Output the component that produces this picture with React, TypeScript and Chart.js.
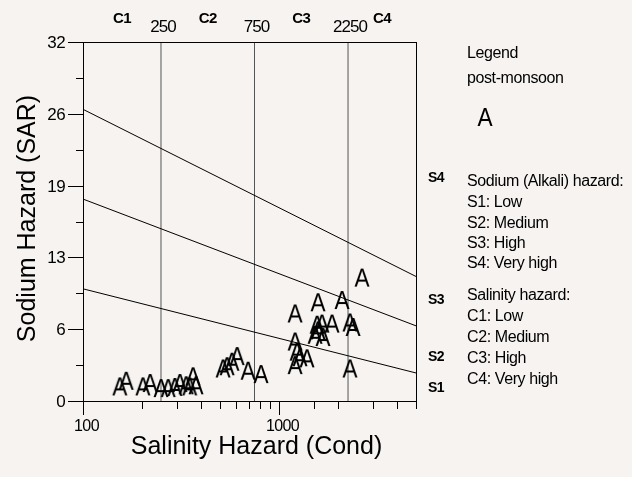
import { useEffect, useRef } from 'react';
import { Chart, registerables } from 'chart.js';

Chart.register(...registerables);

// ---- data ----
const conductivity = [
  154, 166, 202, 220, 250, 272, 294, 312, 336, 364, 377, 350,
  518, 543, 575, 611, 695, 809,
  1207, 1581, 2095, 2650, 1863, 2301, 2386, 1563, 1656, 1581, 1527, 1675,
  1207, 1236, 1279, 1389, 1207, 2301,
];
const sarValues = [
  1.3, 1.8, 1.3, 1.6, 1.15, 1.15, 1.25, 1.6, 1.4, 2.2, 1.4, 1.3,
  2.9, 3.1, 3.5, 4.0, 2.7, 2.4,
  7.8, 8.8, 9.0, 11.0, 6.9, 7.0, 6.6, 6.8, 6.9, 6.3, 5.9, 5.7,
  5.3, 4.4, 3.9, 3.8, 3.2, 2.9,
];

const condRange = [100, 5000];
const sarRange = [0, 32];
const sodiumLineStart = [10, 18, 26]; // SAR at cond = 100
const sodiumLineEnd = [2.5, 6.7, 11.1]; // SAR at cond = 5000
const salinityBounds = [250, 750, 2250];
const salinityClasses = ['C1', 'C2', 'C3', 'C4'];
const sodiumClasses = ['S1', 'S2', 'S3', 'S4'];
const sodiumClassSar = [1.15, 3.9, 9.0, 19.9];
const yTickValues = [0, 3.2, 6.4, 9.6, 12.8, 16, 19.2, 22.4, 25.6, 28.8, 32];
const yTickLabels = ['0', '', '6', '', '13', '', '19', '', '26', '', '32'];
const xTickLabels = [100, 1000];
const legendTitle = 'Legend';
const seriesName = 'post-monsoon';
const seriesSymbol = 'A';
const sodiumText = ['Sodium (Alkali) hazard:', 'S1: Low', 'S2: Medium', 'S3: High', 'S4: Very high'];
const salinityText = ['Salinity hazard:', 'C1: Low', 'C2: Medium', 'C3: High', 'C4: Very high'];
const xTitle = 'Salinity Hazard (Cond)';
const yTitle = 'Sodium Hazard (SAR)';

const FONT = '"Liberation Sans", Arial, sans-serif';

function makeSymbol(): HTMLCanvasElement {
  const c = document.createElement('canvas');
  c.width = 20;
  c.height = 24;
  const g = c.getContext('2d')!;
  g.fillStyle = '#000';
  g.font = `26px ${FONT}`;
  g.textAlign = 'center';
  g.textBaseline = 'alphabetic';
  g.save();
  g.translate(10, 21.3);
  g.scale(0.87, 1);
  g.fillText(seriesSymbol, 0, 0);
  g.restore();
  return c;
}

export default function App() {
  const ref = useRef<HTMLCanvasElement | null>(null);

  useEffect(() => {
    document.body.style.margin = '0';
    const canvas = ref.current!;
    const symbol = makeSymbol();

    const decorPlugin = {
      id: 'decor',
      beforeDraw(chart: any) {
        const ctx = chart.ctx;
        ctx.save();
        ctx.fillStyle = '#f6f3f1';
        ctx.fillRect(0, 0, chart.width, chart.height);
        ctx.restore();
      },
      afterDraw(chart: any) {
        const ctx: CanvasRenderingContext2D = chart.ctx;
        const ca = chart.chartArea;
        const xs = chart.scales.x;
        const ys = chart.scales.y;
        ctx.save();
        ctx.strokeStyle = '#000';
        ctx.lineWidth = 1;
        ctx.strokeRect(Math.round(ca.left) + 0.5, Math.round(ca.top) + 0.5,
          Math.round(ca.right - ca.left), Math.round(ca.bottom - ca.top));

        // y ticks
        ctx.fillStyle = '#000';
        (ctx as any).letterSpacing = '-0.6px';
        ctx.font = `17px ${FONT}`;
        ctx.textAlign = 'right';
        ctx.textBaseline = 'middle';
        ys.ticks.forEach((t: any, i: number) => {
          const py = Math.round(ys.getPixelForValue(t.value)) + 0.5;
          const lab = yTickLabels[i] || '';
          const len = lab ? 15 : 7;
          ctx.beginPath();
          ctx.moveTo(ca.left - len, py);
          ctx.lineTo(ca.left, py);
          ctx.stroke();
          if (lab) ctx.fillText(lab, ca.left - 18, py + 1);
        });

        // x ticks
        ctx.textAlign = 'center';
        ctx.textBaseline = 'middle';
        ctx.font = `16px ${FONT}`;
        xs.ticks.forEach((t: any) => {
          const px = Math.round(xs.getPixelForValue(t.value)) + 0.5;
          const major = xTickLabels.includes(t.value);
          const len = major ? 14 : 8;
          ctx.beginPath();
          ctx.moveTo(px, ca.bottom);
          ctx.lineTo(px, ca.bottom + len);
          ctx.stroke();
          if (major) ctx.fillText(String(t.value), px + 3, ca.bottom + 26);
        });

        // top salinity labels
        ctx.textBaseline = 'alphabetic';
        ctx.font = `17px ${FONT}`;
        (ctx as any).letterSpacing = '-1px';
        salinityBounds.forEach((b) => {
          ctx.fillText(String(b), xs.getPixelForValue(b) + 2, 32);
        });
        ctx.font = `bold 15px ${FONT}`;
        (ctx as any).letterSpacing = '-0.5px';
        const edges = [condRange[0], ...salinityBounds, condRange[1]];
        salinityClasses.forEach((c, i) => {
          const mid = Math.sqrt(edges[i] * edges[i + 1]);
          ctx.fillText(c, xs.getPixelForValue(mid), 23);
        });

        // right sodium class labels
        ctx.textAlign = 'left';
        ctx.textBaseline = 'middle';
        ctx.font = `bold 14px ${FONT}`;
        sodiumClasses.forEach((s, i) => {
          ctx.fillText(s, ca.right + 12, ys.getPixelForValue(sodiumClassSar[i]));
        });

        // legend
        ctx.textBaseline = 'alphabetic';
        ctx.font = `16px ${FONT}`;
        (ctx as any).letterSpacing = '-0.4px';
        const lx = ca.right + 51;
        ctx.fillText(legendTitle, lx, 58);
        ctx.fillText(seriesName, lx, 83);
        ctx.drawImage(symbol, 485 - 10, 117 - 12);
        const sBase = [186, 207, 228, 248, 268];
        sodiumText.forEach((t, i) => ctx.fillText(t, lx, sBase[i]));
        const cBase = [300, 321, 342, 363, 384];
        salinityText.forEach((t, i) => ctx.fillText(t, lx, cBase[i]));

        // axis titles
        (ctx as any).letterSpacing = '0px';
        ctx.font = `25px ${FONT}`;
        ctx.textAlign = 'center';
        ctx.textBaseline = 'middle';
        ctx.fillText(xTitle, (ca.left + ca.right) / 2 + 7, 447);
        ctx.save();
        ctx.translate(28, (ca.top + ca.bottom) / 2 - 3);
        ctx.rotate(-Math.PI / 2);
        ctx.fillText(yTitle, 0, 0);
        ctx.restore();

        ctx.restore();
      },
    };

    const datasets: any[] = [
      {
        label: seriesName,
        data: conductivity.map((c, i) => ({ x: c, y: sarValues[i] })),
        pointStyle: symbol,
        pointRadius: 10,
        showLine: false,
      },
      ...sodiumLineStart.map((s, i) => ({
        label: 'S' + (i + 1),
        data: [
          { x: condRange[0], y: s },
          { x: condRange[1], y: sodiumLineEnd[i] },
        ],
        showLine: true,
        borderColor: '#000',
        borderWidth: 1,
        pointRadius: 0,
      })),
      ...salinityBounds.map((b) => ({
        label: 'C' + b,
        data: [
          { x: b, y: sarRange[0] },
          { x: b, y: sarRange[1] },
        ],
        showLine: true,
        borderColor: '#555',
        borderWidth: 1,
        pointRadius: 0,
      })),
    ];

    const chart = new Chart(canvas, {
      type: 'scatter',
      data: { datasets },
      options: {
        animation: false,
        responsive: true,
        maintainAspectRatio: false,
        layout: { padding: { left: 0, top: 42, right: 216, bottom: 0 } },
        plugins: { legend: { display: false }, tooltip: { enabled: false } },
        scales: {
          x: {
            type: 'logarithmic',
            min: condRange[0],
            max: condRange[1],
            ticks: { display: false },
            grid: { display: false },
            border: { display: false },
            afterFit: (s: any) => { s.height = 76; },
          },
          y: {
            type: 'linear',
            min: sarRange[0],
            max: sarRange[1],
            ticks: { display: false },
            grid: { display: false },
            border: { display: false },
            afterBuildTicks: (s: any) => { s.ticks = yTickValues.map((v) => ({ value: v })); },
            afterFit: (s: any) => { s.width = 83; },
          },
        },
      } as any,
      plugins: [decorPlugin],
    });
    return () => chart.destroy();
  }, []);

  return (
    <div style={{ width: 632, height: 477, position: 'relative' }}>
      <canvas ref={ref} />
    </div>
  );
}
